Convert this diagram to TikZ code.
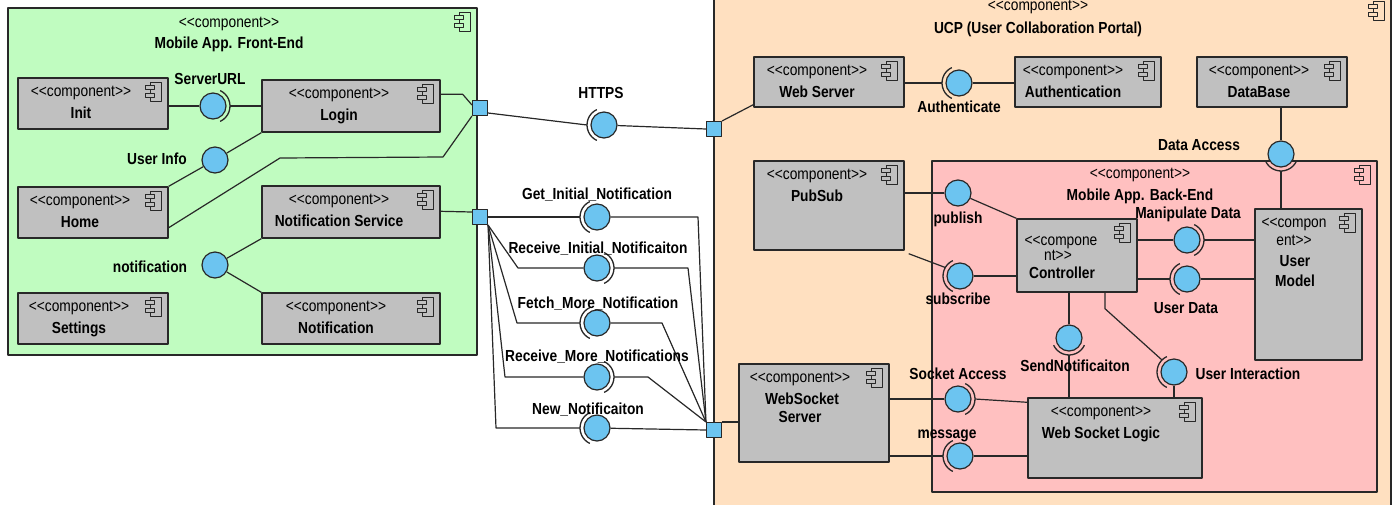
\documentclass[tikz,border=0pt]{standalone}
\usepackage{fontspec}
\setmainfont[FakeStretch=0.86]{Liberation Sans}
\usetikzlibrary{fit,calc}
\definecolor{fegreen}{RGB}{192,252,192}
\definecolor{ucpbg}{RGB}{255,224,192}
\definecolor{bepink}{RGB}{255,192,192}
\definecolor{cgray}{RGB}{192,192,192}
\definecolor{ballblue}{RGB}{108,196,240}
\definecolor{lncol}{RGB}{40,40,40}
\newcommand\fsz{\fontsize{16}{19}\selectfont}
\tikzset{
 cont/.style={draw=lncol, line width=1.4pt, inner sep=0pt},
 cbox/.style={draw=lncol, fill=cgray, line width=1.4pt, inner sep=0pt},
 ball/.style={circle, draw=lncol, fill=ballblue, line width=1.2pt, minimum size=26pt, inner sep=0pt},
 port/.style={rectangle, draw=lncol, fill=ballblue, line width=1.1pt, minimum size=15pt, inner sep=0pt},
 sock/.style={draw=lncol, line width=1.3pt},
 conn/.style={draw=lncol, line width=1.2pt},
 ster/.style={anchor=base, inner sep=0pt, font=\fsz\mdseries},
 nm/.style={anchor=base, inner sep=0pt, font=\fsz\bfseries},
 lbl/.style={anchor=base, inner sep=0pt, font=\fsz\bfseries},
}
\newcommand\ltt{\textless\kern0pt\textless\kern0pt}
\newcommand\gtt{\kern0pt\textgreater\kern0pt\textgreater}
\newcommand\sttxt{\ltt component\gtt}
\newcommand\cicon[2][cgray]{%
 \begin{scope}[shift={(#2)}]
  \draw[lncol, line width=1pt, fill=#1] (-18,5) rectangle (-7,24);
  \draw[lncol, line width=1pt, fill=#1] (-23,8.5) rectangle (-14,12.5);
  \draw[lncol, line width=1pt, fill=#1] (-23,16) rectangle (-14,20);
 \end{scope}}
\newcommand\comp[7]{%
 \node[cbox, fit={(#2,#3) (#4,#5)}] (#1) {};
 \cicon{#1.north east}
 \node[ster] (#1-s) at ($(#1.north)+(#6,19.5)$) {\sttxt};
 \node[nm] (#1-n) at ($(#1.north)+(#6,41)$) {#7};}
\newcommand\mkball[3]{\node[ball] (#1) at (#2,#3) {};}
\newcommand\sock[4]{%
 \draw[sock] ($(#1.center)+(#2:17pt)$) arc[start angle=#2, end angle=#3, radius=17pt];
 \coordinate (#1-k) at ($(#1.center)+(#4:17pt)$);}
\begin{document}
\begin{tikzpicture}[x=1pt, y=-1pt, font=\fsz, line join=round]
\useasboundingbox (0,0) rectangle (1395,504);
\fill[white] (0,0) rectangle (1395,504);

% ---------- containers ----------
\node[cont, fill=fegreen, fit={(8,8) (477,355)}] (fe) {};
\cicon[fegreen]{fe.north east}
\node[ster] (fe-s) at (229,27) {\sttxt};
\node[nm] (fe-n) at (229,48.5) {Mobile App. Front-End};

\node[cont, fill=ucpbg, fit={(714,-20) (1391,530)}] (ucp) {};
\coordinate (ucp-ic) at (1391,-4);
\cicon[ucpbg]{ucp-ic}
\node[ster] (ucp-s) at (1038,10) {\sttxt};
\node[nm] (ucp-n) at (1038,33) {UCP (User Collaboration Portal)};

\node[cont, fill=bepink, fit={(932,161) (1377,492)}] (be) {};
\cicon[bepink]{be.north east}
\node[ster] (be-s) at (1140,178) {\sttxt};
\node[nm] (be-n) at (1140,200) {Mobile App. Back-End};

% ---------- components ----------
\comp{init}{18}{78}{168}{129}{-12}{Init}
\comp{login}{262}{80}{440}{132}{-12}{Login}
\comp{home}{18}{187}{168}{238}{-13}{Home}
\comp{ns}{262}{186}{440}{238}{-12}{Notification Service}
\comp{settings}{18}{293}{168}{344}{-14}{Settings}
\comp{notif}{262}{293}{440}{344}{-15}{Notification}
\comp{websrv}{754}{57}{904}{107}{-12}{Web Server}
\comp{auth}{1015}{57}{1161}{107}{-15}{Authentication}
\comp{db}{1197}{57}{1347}{107}{-13}{DataBase}
\comp{pubsub}{754}{161}{904}{250}{-12}{PubSub}
\comp{wsl}{1028}{398}{1202}{478}{-14}{Web Socket Logic}

\node[cbox, fit={(1017,219) (1137,292)}] (ctrl) {};
\cicon{ctrl.north east}
\node[ster] (ctrl-s1) at (1061,245) {\ltt compone};
\node[ster] (ctrl-s2) at (1058,260) {nt\gtt};
\node[nm] (ctrl-n) at (1062,278.5) {Controller};

\node[cbox, fit={(1255,209) (1362,360)}] (umodel) {};
\cicon{umodel.north east}
\node[ster] (umodel-s1) at (1294,227) {\ltt compon};
\node[ster] (umodel-s2) at (1294,245) {ent\gtt};
\node[nm] (umodel-n1) at (1295,266.5) {User};
\node[nm] (umodel-n2) at (1295,286.5) {Model};

\node[cbox, fit={(739,364) (889,462)}] (wss) {};
\cicon{wss.north east}
\node[ster] (wss-s) at (800,382) {\sttxt};
\node[nm] (wss-n1) at (802,404.5) {WebSocket};
\node[nm] (wss-n2) at (800,422.5) {Server};

% ---------- ports ----------
\node[port] (p1) at (480,108) {};
\node[port] (p2) at (480,217) {};
\node[port] (p3) at (714,430) {};
\node[port] (p4) at (714,129) {};

% ---------- interface balls ----------
\mkball{su}{213}{106}
\mkball{ui}{215}{160}
\mkball{nt}{215}{265}
\mkball{https}{604}{125}
\mkball{gin}{597}{217}
\mkball{rin}{597}{268}
\mkball{fmn}{597}{323}
\mkball{rmn}{597}{377}
\mkball{nn}{597}{428}
\mkball{au}{959}{83}
\mkball{da}{1281}{154}
\mkball{pub}{958}{193}
\mkball{sub}{960}{276}
\mkball{md}{1187}{240}
\mkball{udat}{1187}{279}
\mkball{sn}{1069}{338}
\mkball{uint}{1174}{372}
\mkball{sa}{958}{399}
\mkball{msg}{960}{456}

\sock{su}{-65}{65}{0}
\sock{https}{115}{245}{180}
\sock{gin}{115}{245}{180}
\sock{rin}{-65}{65}{0}
\sock{fmn}{115}{245}{180}
\sock{rmn}{-65}{65}{0}
\sock{nn}{115}{245}{180}
\sock{au}{115}{245}{180}
\sock{da}{205}{335}{270}
\sock{sub}{115}{245}{150}
\sock{md}{-65}{65}{0}
\sock{udat}{115}{245}{180}
\sock{sn}{205}{335}{270}
\sock{uint}{115}{245}{135}
\sock{sa}{-65}{65}{0}
\sock{msg}{115}{245}{180}

% ---------- connectors: front-end ----------
\draw[conn] (init.east |- su) -- (su);
\draw[conn] (su-k) -- (login.west |- su);
\draw[conn] (ui) -- (login.south west);
\draw[conn] (ui) -- (home.north east);
\draw[conn] (nt) -- (ns.south west);
\draw[conn] (nt) -- (notif.north west);
\draw[conn] ([yshift=-15pt]login.north east) -- ++(22,0) -- ([yshift=3pt]p1.west);
\draw[conn] ([yshift=11pt]home.south east) -- (280,158) -- (443,157) -- (p1.south west);
\draw[conn] ([yshift=-26pt]ns.north east) -- ([yshift=5pt]p2.west);

% ---------- connectors: HTTPS ----------
\draw[conn] ([yshift=-5pt]p1.east) -- (https-k);
\draw[conn] (https) -- (p4.west);
\draw[conn] (p4.north east) -- ([yshift=3pt]websrv.south west);

% ---------- connectors: notifications ----------
\draw[conn] (p2.east) -- (gin-k);
\draw[conn] (gin) -- (698,217) -- (p3.north west);
\draw[conn] (p2.south east) -- (518,268) -- (rin);
\draw[conn] (rin-k) -- (688,268) -- (p3.north west);
\draw[conn] (p2.south east) -- (517,323) -- (fmn-k);
\draw[conn] (fmn) -- (662,323) -- (p3.north west);
\draw[conn] (p2.south east) -- (505,377) -- (rmn);
\draw[conn] (rmn-k) -- (648,377) -- (p3.north west);
\draw[conn] (p2.south east) -- (496,428) -- (nn-k);
\draw[conn] (nn) -- (p3.west);

% ---------- connectors: UCP ----------
\draw[conn] (websrv.east |- au) -- (au-k);
\draw[conn] (au) -- (auth.west |- au);
\draw[conn] (db.south -| da) -- (da);
\draw[conn] (da-k) -- (umodel.north -| da);
\draw[conn] (pubsub.east |- pub) -- (pub);
\draw[conn] (pub) -- (ctrl.north west);
\draw[conn] ([shift={(4pt,-3pt)}]pubsub.south east) -- (sub-k);
\draw[conn] (sub) -- (ctrl.west |- sub);
\draw[conn] (ctrl.east |- md) -- (md);
\draw[conn] (md-k) -- (umodel.west |- md);
\draw[conn] (ctrl.east |- udat) -- (udat-k);
\draw[conn] (udat) -- (umodel.west |- udat);
\draw[conn] (ctrl.south -| sn) -- (sn);
\draw[conn] (sn-k) -- (wsl.north -| sn);
\draw[conn] ([xshift=28pt]ctrl.south) -- ++(0,16) -- (uint-k);
\draw[conn] (uint) -- (wsl.north -| uint);
\draw[conn] (wss.east |- sa) -- (sa);
\draw[conn] (sa-k) -- ([yshift=-5pt]wsl.north west);
\draw[conn] (wss.east |- msg) -- (msg-k);
\draw[conn] (msg) -- (wsl.west |- msg);
\draw[conn] (p3.north east) -- (wss.west |- p3.north east);

% ---------- labels ----------
\node[lbl] (l-su) at (210,84) {ServerURL};
\node[lbl] (l-ui) at (157,164) {User Info};
\node[lbl] (l-nt) at (150,272) {notification};
\node[lbl] (l-https) at (601,98) {HTTPS};
\node[lbl] (l-gin) at (597,199) {Get\_Initial\_Notification};
\node[lbl] (l-rin) at (598,253) {Receive\_Initial\_Notificaiton};
\node[lbl] (l-fmn) at (598,308) {Fetch\_More\_Notification};
\node[lbl] (l-rmn) at (597,361) {Receive\_More\_Notifications};
\node[lbl] (l-nn) at (588,414) {New\_Notificaiton};
\node[lbl] (l-au) at (959,112) {Authenticate};
\node[lbl] (l-da) at (1199,150) {Data Access};
\node[lbl] (l-pub) at (958,223) {publish};
\node[lbl] (l-sub) at (958,304) {subscribe};
\node[lbl] (l-md) at (1188,218) {Manipulate Data};
\node[lbl] (l-ud) at (1186,313) {User Data};
\node[lbl] (l-sn) at (1075,371) {SendNotificaiton};
\node[lbl] (l-uint) at (1248,379) {User Interaction};
\node[lbl] (l-sa) at (958,379) {Socket Access};
\node[lbl] (l-msg) at (947,438) {message};
\end{tikzpicture}
\end{document}
